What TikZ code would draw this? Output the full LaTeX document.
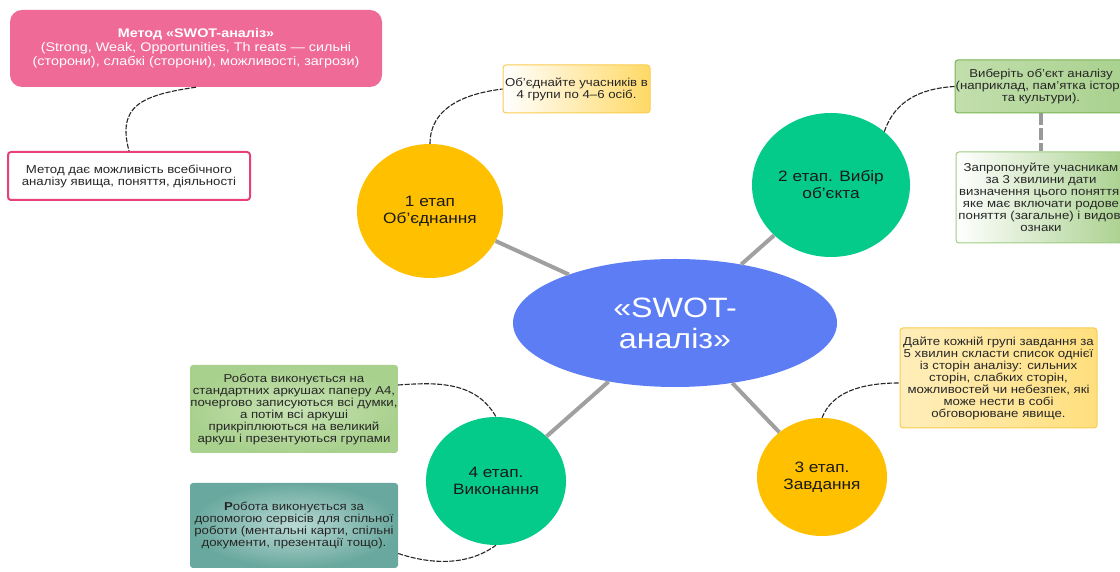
\documentclass[tikz,border=0pt]{standalone}
\usepackage{fontspec}
\setmainfont{Liberation Sans}[FakeStretch=1.15]
\usetikzlibrary{shapes.geometric,calc}
\definecolor{cyellow}{RGB}{255,192,0}
\definecolor{cgreen}{RGB}{4,203,137}
\definecolor{cblue}{RGB}{93,125,245}
\definecolor{cgray}{RGB}{160,160,160}
\definecolor{cpink}{RGB}{240,106,152}
\definecolor{cpinkline}{RGB}{233,64,122}
\definecolor{ygold}{RGB}{255,217,102}
\definecolor{yborder}{RGB}{250,205,80}
\definecolor{glight}{RGB}{200,226,180}
\definecolor{gmid}{RGB}{169,209,142}
\definecolor{gdark}{RGB}{120,180,80}
\definecolor{tlight}{RGB}{185,218,212}
\definecolor{tdark}{RGB}{105,168,158}
\begin{document}
\begin{tikzpicture}[x=1pt,y=1pt,
  stage/.style={ellipse, fill=#1, align=center, inner sep=0pt, text=black!90, font=\fontsize{15}{17}\selectfont},
  infobox/.style={rectangle, align=center, inner sep=0pt, text=black!85, font=\fontsize{11.5}{12}\selectfont, rounded corners=3pt},
  conn/.style={draw=black!85, line width=1.1pt, dash pattern=on 5pt off 1.5pt},
  link/.style={draw=cgray, line width=4pt},
  gdash/.style={draw=black!40, line width=3.5pt, dash pattern=on 12pt off 3pt}
]
\useasboundingbox (0,0) rectangle (1120,572);
\fill[white] (0,0) rectangle (1120,572);
\clip (0,0) rectangle (1120,572);

% top-left boxes
\node[infobox, fill=cpink, text=white, rounded corners=12pt, minimum width=372pt, minimum height=77pt,
      font=\fontsize{12.5}{14}\selectfont] (pink) at (196,523.5)
  {\textbf{Метод «SWOT-аналіз»}\\(Strong, Weak, Opportunities, Th reats — сильні\\(сторони), слабкі (сторони), можливості, загрози)};
\node[infobox, fill=white, draw=cpinkline, line width=2pt, minimum width=242pt, minimum height=48pt] (white) at (129,396)
  {Метод дає можливість всебічного\\аналізу явища, поняття, діяльності};

% top yellow box
\node[infobox, left color=white, right color=ygold, draw=yborder, line width=1pt, minimum width=147pt, minimum height=48pt] (yb1) at (576.5,483)
  {Об’єднайте учасників в\\4 групи по 4–6 осіб.};

% right green boxes
\node[infobox, left color=glight!80!gmid, right color=gmid, draw=gdark, line width=1pt, minimum width=172pt, minimum height=53pt] (gb1) at (1041,485.5)
  {Виберіть об’єкт аналізу\\(наприклад, пам’ятка історії\\та культури).};
\node[infobox, left color=white, right color=gmid, draw=gmid!80!gdark, line width=1pt, minimum width=170pt, minimum height=91pt] (gb2) at (1041,374.5)
  {Запропонуйте учасникам\\за 3 хвилини дати\\визначення цього поняття,\\яке має включати родове\\поняття (загальне) і видові\\ознаки};

% right yellow box
\node[infobox, left color=ygold!45, right color=ygold!85, draw=yborder, line width=1pt, minimum width=197pt, minimum height=100pt] (yb2) at (998.5,194)
  {Дайте кожній групі завдання за\\5 хвилин скласти список однієї\\із сторін аналізу: сильних\\сторін, слабких сторін,\\можливостей чи небезпек, які\\може нести в собі\\обговорюване явище.};

% left bottom boxes
\node[infobox, inner color=glight, outer color=gmid, minimum width=208pt, minimum height=88pt] (lg) at (294,163)
  {Робота виконується на\\стандартних аркушах паперу А4,\\почергово записуються всі думки,\\а потім всі аркуші\\прикріплюються на великий\\аркуш і презентуються групами};
\node[infobox, inner color=tlight, outer color=tdark, minimum width=208pt, minimum height=85pt] (teal) at (294,46.5)
  {\textbf{Р}обота виконується за\\допомогою сервісів для спільної\\роботи (ментальні карти, спільні\\документи, презентації тощо).};

% central ellipse and stages
\node[ellipse, fill=cblue, inner sep=0pt, minimum width=324pt, minimum height=128pt, align=center, text=white,
      font=\fontsize{28}{31}\selectfont] (main) at (675,249) {«SWOT-\\аналіз»};
\node[stage=cyellow, minimum width=146pt, minimum height=134pt] (c1) at (430,361) {1 етап\\Об’єднання};
\node[stage=cgreen, minimum width=158pt, minimum height=144pt] (c2) at (831,387) {2 етап. Вибір\\об’єкта};
\node[stage=cyellow, minimum width=130pt, minimum height=118pt] (c3) at (822,95) {3 етап.\\Завдання};
\node[stage=cgreen, minimum width=140pt, minimum height=128pt] (c4) at (496,91) {4 етап.\\Виконання};

% gray links
\draw[link] (main) -- (c1);
\draw[link] (main) -- (c2);
\draw[link] (main) -- (c3);
\draw[link] (main) -- (c4);
\draw[gdash] (gb1.south) -- (gb2.north);

% dashed curved connectors
\draw[conn] (pink.south) .. controls +(-55,-8) and +(-12,45) .. (white.north);
\draw[conn] (c1.north) .. controls +(0,35) and +(-40,-5) .. (yb1.west);
\draw[conn] (c2.45) .. controls +(10,30) and +(-35,-2) .. (gb1.west);
\coordinate (yb2in) at ($(yb2.west)+(0,-5)$);
\draw[conn] (c3.north) .. controls +(10,25) and +(-40,0) .. (yb2in);
\coordinate (lgout) at ($(lg.east)+(0,24)$);
\draw[conn] (lgout) .. controls +(40,3) and +(-20,35) .. (c4.north);
\coordinate (tealout) at ($(teal.east)+(0,-28)$);
\draw[conn] (tealout) .. controls +(30,-10) and +(-30,-22) .. (c4.south);
\end{tikzpicture}
\end{document}
